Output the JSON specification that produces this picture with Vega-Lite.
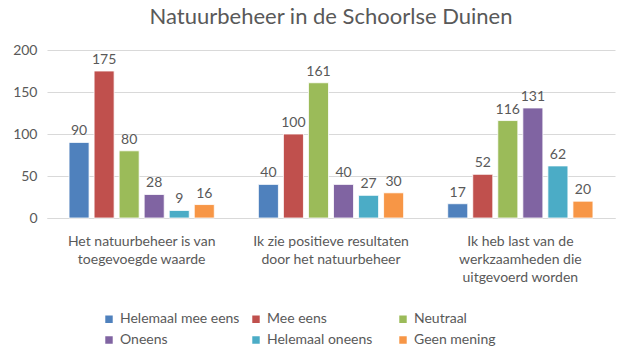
{
  "$schema": "https://vega.github.io/schema/vega-lite/v6.json",
  "width": 568,
  "height": 168,
  "padding": {"left": 12, "top": 6, "right": 20, "bottom": 0},
  "background": "white",
  "title": {"text": "Natuurbeheer in de Schoorlse Duinen", "fontSize": 22, "font": "Lato", "color": "#595959", "fontWeight": "normal", "offset": 14, "anchor": "middle"},
  "config": {"view": {"stroke": null}, "font": "Lato", "legend": {"gridAlign": "all"}},
  "data": {"values": [
    {"q": "Het natuurbeheer is van|toegevoegde waarde", "r": "Helemaal mee eens", "v": 90},
    {"q": "Het natuurbeheer is van|toegevoegde waarde", "r": "Mee eens", "v": 175},
    {"q": "Het natuurbeheer is van|toegevoegde waarde", "r": "Neutraal", "v": 80},
    {"q": "Het natuurbeheer is van|toegevoegde waarde", "r": "Oneens", "v": 28},
    {"q": "Het natuurbeheer is van|toegevoegde waarde", "r": "Helemaal oneens", "v": 9},
    {"q": "Het natuurbeheer is van|toegevoegde waarde", "r": "Geen mening", "v": 16},
    {"q": "Ik zie positieve resultaten|door het natuurbeheer", "r": "Helemaal mee eens", "v": 40},
    {"q": "Ik zie positieve resultaten|door het natuurbeheer", "r": "Mee eens", "v": 100},
    {"q": "Ik zie positieve resultaten|door het natuurbeheer", "r": "Neutraal", "v": 161},
    {"q": "Ik zie positieve resultaten|door het natuurbeheer", "r": "Oneens", "v": 40},
    {"q": "Ik zie positieve resultaten|door het natuurbeheer", "r": "Helemaal oneens", "v": 27},
    {"q": "Ik zie positieve resultaten|door het natuurbeheer", "r": "Geen mening", "v": 30},
    {"q": "Ik heb last van de|werkzaamheden die|uitgevoerd worden", "r": "Helemaal mee eens", "v": 17},
    {"q": "Ik heb last van de|werkzaamheden die|uitgevoerd worden", "r": "Mee eens", "v": 52},
    {"q": "Ik heb last van de|werkzaamheden die|uitgevoerd worden", "r": "Neutraal", "v": 116},
    {"q": "Ik heb last van de|werkzaamheden die|uitgevoerd worden", "r": "Oneens", "v": 131},
    {"q": "Ik heb last van de|werkzaamheden die|uitgevoerd worden", "r": "Helemaal oneens", "v": 62},
    {"q": "Ik heb last van de|werkzaamheden die|uitgevoerd worden", "r": "Geen mening", "v": 20}
  ]},
  "encoding": {
    "x": {
      "field": "q", "type": "nominal", "sort": null, "title": null,
      "scale": {"paddingInner": 0, "paddingOuter": 0},
      "axis": {"labelAngle": 0, "labelExpr": "split(datum.label, '|')", "labelFontSize": 14, "labelColor": "#595959", "labelLineHeight": 18, "labelPadding": 16, "ticks": false, "domainColor": "#d9d9d9", "labelLimit": 300}
    },
    "xOffset": {"field": "r", "type": "nominal", "sort": ["Helemaal mee eens", "Mee eens", "Neutraal", "Oneens", "Helemaal oneens", "Geen mening"], "scale": {"paddingInner": 0.2, "paddingOuter": 0.88}},
    "y": {
      "field": "v", "type": "quantitative", "title": null,
      "scale": {"domain": [0, 200]},
      "axis": {"values": [0, 50, 100, 150, 200], "labelFontSize": 14, "labelColor": "#595959", "gridColor": "#d9d9d9", "domain": false, "ticks": false, "labelPadding": 10}
    }
  },
  "layer": [
    {
      "mark": {"type": "bar", "stroke": "white", "strokeWidth": 0.8},
      "encoding": {
        "color": {
          "field": "r", "type": "nominal", "title": null,
          "sort": ["Helemaal mee eens", "Mee eens", "Neutraal", "Oneens", "Helemaal oneens", "Geen mening"],
          "scale": {"domain": ["Helemaal mee eens", "Mee eens", "Neutraal", "Oneens", "Helemaal oneens", "Geen mening"], "range": ["#4F81BD", "#C0504D", "#9BBB59", "#8064A2", "#4BACC6", "#F79646"]},
          "legend": {"orient": "none", "legendX": 55, "legendY": 262, "direction": "horizontal", "columns": 3, "symbolType": "square", "symbolSize": 80, "labelFontSize": 14, "labelColor": "#595959", "gridAlign": "all", "columnPadding": 8, "rowPadding": 5, "symbolOpacity": 1}
        }
      }
    },
    {
      "mark": {"type": "text", "dy": -11, "fontSize": 14, "color": "#595959"},
      "encoding": {"text": {"field": "v", "type": "quantitative"}}
    }
  ]
}
